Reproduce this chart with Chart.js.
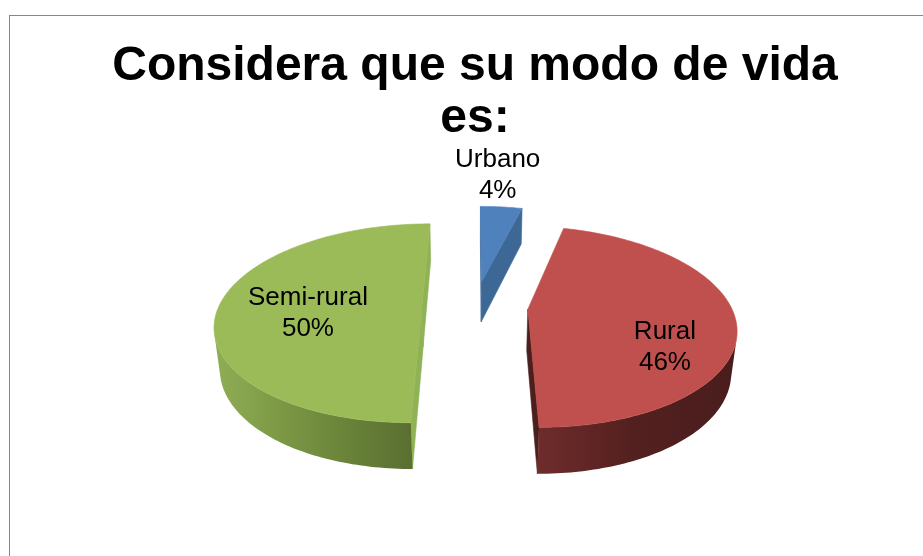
<!DOCTYPE html>
<html lang="es">
<head>
<meta charset="UTF-8">
<title>Modo de vida</title>
<script src="https://cdn.jsdelivr.net/npm/chart.js"></script>
<style>
  body { margin: 0; background: #fff; }
  canvas { display: block; }
</style>
</head>
<body>
<canvas id="modoVida" width="923" height="556"></canvas>
<script>
const categorias = ['Urbano', 'Rural', 'Semi-rural'];
const porcentajes = [4, 46, 50];
const coloresCara = ['#4F81BD', '#C0504D', '#9BBB59'];
const coloresLado = [['#3f6d9f', '#355d88'], ['#6e2c2b', '#53201f', '#4a1d1d'], ['#8eac53', '#6f8a3c', '#55692e']];
const coloresCorte = ['#3d6896', '#4c1e1d', '#8fb255'];

// vista 3D: inclinación, distancia de cámara, grosor y separación (todo en radios)
const vista = { sen: 0.475, cos: 0.880, dist: 5.06, grosor: 0.234, separa: 0.261 };
// etiqueta: radio relativo y giro (grados) desde el centro de cada porción
const etiquetaPos = [[1.56, -3], [0.705, 22], [0.557, -5]];

// x,y sobre el disco (y hacia el fondo), z hacia arriba
function proyectar(arc, x, y, z) {
  const R = arc.outerRadius, d = vista.dist;
  const prof = d + y * vista.cos - z * vista.sen;
  return [arc.x + R * d * x / prof, arc.y - R * d * (y * vista.sen + z * vista.cos) / prof];
}

function porcion(arc) {
  const mid = (arc.startAngle + arc.endAngle) / 2;
  const cx = Math.cos(mid) * vista.separa, cy = -Math.sin(mid) * vista.separa;
  const pasos = Math.max(2, Math.ceil((arc.endAngle - arc.startAngle) / 0.02));
  const borde = [];
  for (let i = 0; i <= pasos; i++) {
    const a = arc.startAngle + (arc.endAngle - arc.startAngle) * i / pasos;
    borde.push([cx + Math.cos(a), cy - Math.sin(a)]);
  }
  return { mid, cx, cy, borde };
}

function area(pts) {
  let s = 0;
  for (let i = 0; i < pts.length; i++) {
    const p = pts[i], q = pts[(i + 1) % pts.length];
    s += p[0] * q[1] - q[0] * p[1];
  }
  return s / 2;
}

function poligono(ctx, pts, fill, stroke) {
  ctx.beginPath();
  pts.forEach((p, i) => i ? ctx.lineTo(p[0], p[1]) : ctx.moveTo(p[0], p[1]));
  ctx.closePath();
  ctx.fillStyle = fill;
  ctx.fill();
  if (stroke) { ctx.strokeStyle = fill; ctx.lineWidth = 0.6; ctx.stroke(); }
}

const marco = {
  id: 'marco',
  beforeDraw(chart) {
    const ctx = chart.ctx;
    ctx.save();
    ctx.fillStyle = '#fff';
    ctx.fillRect(0, 0, chart.width, chart.height);
    ctx.strokeStyle = '#878787';
    ctx.lineWidth = 1;
    ctx.strokeRect(9.5, 15.5, 1000, 1000);
    ctx.restore();
  }
};

const tarta3d = {
  id: 'tarta3d',
  beforeDatasetsDraw(chart) {
    const ctx = chart.ctx;
    const arcs = chart.getDatasetMeta(0).data;
    const H = vista.grosor;
    const partes = arcs.map((arc, i) => ({ arc, i, g: porcion(arc) }));
    // del fondo hacia el frente
    partes.sort((a, b) => b.g.cy - a.g.cy);

    ctx.save();
    partes.forEach(({ arc, i, g }) => {
      const P = (x, y, z) => proyectar(arc, x, y, z);
      const b0 = g.borde[0], b1 = g.borde[g.borde.length - 1];
      const arriba = g.borde.map(p => P(p[0], p[1], 0));
      const abajo = g.borde.map(p => P(p[0], p[1], -H));

      // caras de corte, solo las que miran a la cámara
      const c0 = [P(g.cx, g.cy, 0), P(b0[0], b0[1], 0), P(b0[0], b0[1], -H), P(g.cx, g.cy, -H)];
      const c1 = [P(g.cx, g.cy, 0), P(b1[0], b1[1], 0), P(b1[0], b1[1], -H), P(g.cx, g.cy, -H)];
      if (area(c0) < 0) poligono(ctx, c0, coloresCorte[i], true);
      if (area(c1) > 0) poligono(ctx, c1, coloresCorte[i], true);

      // pared exterior: tramos visibles con degradado
      const xs = abajo.map(p => p[0]);
      const grad = ctx.createLinearGradient(Math.min(...xs), 0, Math.max(...xs), 0);
      const stops = coloresLado[i];
      stops.forEach((c, k) => grad.addColorStop(k / (stops.length - 1), c));
      let tramo = null;
      const cerrar = () => {
        if (tramo && tramo.length > 1) {
          const pared = tramo.map(k => arriba[k]).concat(tramo.map(k => abajo[k]).reverse());
          poligono(ctx, pared, grad, false);
        }
        tramo = null;
      };
      for (let k = 0; k < arriba.length - 1; k++) {
        const q = [arriba[k], arriba[k + 1], abajo[k + 1], abajo[k]];
        if (area(q) < 0) {
          if (!tramo) tramo = [k];
          tramo.push(k + 1);
        } else cerrar();
      }
      cerrar();

      // cara superior
      poligono(ctx, [P(g.cx, g.cy, 0)].concat(arriba), arc.options.backgroundColor, true);
    });

    // etiquetas
    ctx.fillStyle = '#000';
    ctx.font = '26px "Liberation Sans", Arial, sans-serif';
    ctx.textAlign = 'center';
    ctx.textBaseline = 'alphabetic';
    partes.forEach(({ arc, i, g }) => {
      const [rho, giro] = etiquetaPos[i];
      const a = g.mid + giro * Math.PI / 180;
      const [x, y] = proyectar(arc, g.cx + rho * Math.cos(a), g.cy - rho * Math.sin(a), 0);
      ctx.fillText(chart.data.labels[i], x, y - 6);
      ctx.fillText(porcentajes[i] + '%', x, y + 25);
    });
    ctx.restore();
    return false;
  }
};

new Chart(document.getElementById('modoVida'), {
  type: 'pie',
  data: {
    labels: categorias,
    datasets: [{
      data: porcentajes,
      backgroundColor: coloresCara,
      borderWidth: 0,
      hoverOffset: 0
    }]
  },
  options: {
    responsive: false,
    animation: false,
    devicePixelRatio: 1,
    events: [],
    layout: { padding: { left: 27, right: 0, top: 0, bottom: 47 } },
    plugins: {
      legend: { display: false },
      tooltip: { enabled: false },
      title: {
        display: true,
        text: ['Considera que su modo de vida', 'es:'],
        color: '#000',
        font: { family: '"Liberation Sans", Arial, sans-serif', size: 48, weight: 'bold', lineHeight: 52 / 48 },
        padding: { top: 41, bottom: -42 }
      }
    }
  },
  plugins: [marco, tarta3d]
});
</script>
</body>
</html>
